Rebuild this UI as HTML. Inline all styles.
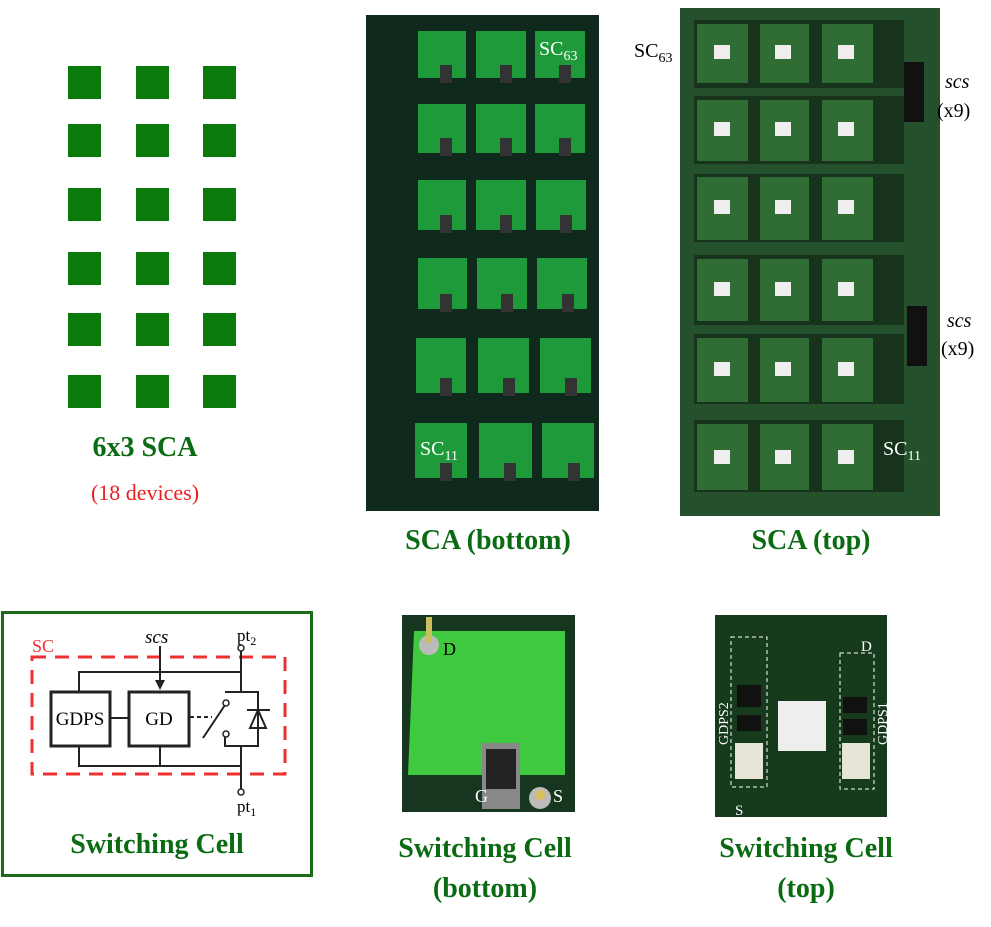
<!DOCTYPE html>
<html><head><meta charset="utf-8"><style>
body{margin:0;width:991px;height:927px;background:#fff;position:relative;overflow:hidden;font-family:"Liberation Serif",serif}
.a{position:absolute}
.t{position:absolute;color:#0b6b12;font-weight:bold;font-size:28px;text-align:center;line-height:40px}
.sq{position:absolute;width:33px;height:33px;background:#0a7a0a}
</style></head><body>
<div class="sq" style="left:68px;top:66px"></div><div class="sq" style="left:136px;top:66px"></div><div class="sq" style="left:203px;top:66px"></div>
<div class="sq" style="left:68px;top:124px"></div><div class="sq" style="left:136px;top:124px"></div><div class="sq" style="left:203px;top:124px"></div>
<div class="sq" style="left:68px;top:188px"></div><div class="sq" style="left:136px;top:188px"></div><div class="sq" style="left:203px;top:188px"></div>
<div class="sq" style="left:68px;top:252px"></div><div class="sq" style="left:136px;top:252px"></div><div class="sq" style="left:203px;top:252px"></div>
<div class="sq" style="left:68px;top:313px"></div><div class="sq" style="left:136px;top:313px"></div><div class="sq" style="left:203px;top:313px"></div>
<div class="sq" style="left:68px;top:375px"></div><div class="sq" style="left:136px;top:375px"></div><div class="sq" style="left:203px;top:375px"></div>
<div class="t" style="left:40px;width:210px;top:428px">6x3 SCA</div>
<div class="a" style="left:40px;width:210px;top:480px;text-align:center;color:#e82020;font-size:22px">(18 devices)</div>

<svg class="a" style="left:0;top:0" width="991" height="600">
<rect x="366" y="15" width="233" height="496" fill="#0f2a1c"/>
<g fill="#1f9a3a">
<rect x="418" y="31" width="48" height="47"/><rect x="476" y="31" width="50" height="47"/><rect x="535" y="31" width="50" height="47"/>
<rect x="418" y="104" width="48" height="49"/><rect x="476" y="104" width="50" height="49"/><rect x="535" y="104" width="50" height="49"/>
<rect x="418" y="180" width="48" height="50"/><rect x="476" y="180" width="50" height="50"/><rect x="536" y="180" width="50" height="50"/>
<rect x="418" y="258" width="49" height="51"/><rect x="477" y="258" width="50" height="51"/><rect x="537" y="258" width="50" height="51"/>
<rect x="416" y="338" width="50" height="55"/><rect x="478" y="338" width="51" height="55"/><rect x="540" y="338" width="51" height="55"/>
<rect x="415" y="423" width="52" height="55"/><rect x="479" y="423" width="53" height="55"/><rect x="542" y="423" width="52" height="55"/>
</g>
<g fill="#333">
<rect x="440" y="65" width="12" height="18"/><rect x="500" y="65" width="12" height="18"/><rect x="559" y="65" width="12" height="18"/>
<rect x="440" y="138" width="12" height="18"/><rect x="500" y="138" width="12" height="18"/><rect x="559" y="138" width="12" height="18"/>
<rect x="440" y="215" width="12" height="18"/><rect x="500" y="215" width="12" height="18"/><rect x="560" y="215" width="12" height="18"/>
<rect x="440" y="294" width="12" height="18"/><rect x="501" y="294" width="12" height="18"/><rect x="562" y="294" width="12" height="18"/>
<rect x="440" y="378" width="12" height="18"/><rect x="503" y="378" width="12" height="18"/><rect x="565" y="378" width="12" height="18"/>
<rect x="440" y="463" width="12" height="18"/><rect x="504" y="463" width="12" height="18"/><rect x="568" y="463" width="12" height="18"/>
</g>
<text x="539" y="55" fill="#fff" font-size="20">SC<tspan font-size="14" dy="5">63</tspan></text>
<text x="420" y="455" fill="#fff" font-size="20">SC<tspan font-size="14" dy="5">11</tspan></text>
<rect x="680" y="8" width="260" height="508" fill="#24502c"/>
<g fill="#17331c">
<rect x="694" y="20" width="210" height="68"/><rect x="694" y="96" width="210" height="68"/><rect x="694" y="174" width="210" height="68"/>
<rect x="694" y="255" width="210" height="70"/><rect x="694" y="334" width="210" height="70"/><rect x="694" y="420" width="210" height="72"/>
</g>
<g fill="#2f6d35">
<rect x="697" y="24" width="51" height="59"/><rect x="760" y="24" width="49" height="59"/><rect x="822" y="24" width="51" height="59"/>
<rect x="697" y="100" width="51" height="61"/><rect x="760" y="100" width="49" height="61"/><rect x="822" y="100" width="51" height="61"/>
<rect x="697" y="177" width="51" height="63"/><rect x="760" y="177" width="49" height="63"/><rect x="822" y="177" width="51" height="63"/>
<rect x="697" y="259" width="51" height="62"/><rect x="760" y="259" width="49" height="62"/><rect x="822" y="259" width="51" height="62"/>
<rect x="697" y="338" width="51" height="64"/><rect x="760" y="338" width="49" height="64"/><rect x="822" y="338" width="51" height="64"/>
<rect x="697" y="424" width="51" height="66"/><rect x="760" y="424" width="49" height="66"/><rect x="822" y="424" width="51" height="66"/>
</g>
<g fill="#eee">
<rect x="714" y="45" width="16" height="14"/><rect x="775" y="45" width="16" height="14"/><rect x="838" y="45" width="16" height="14"/>
<rect x="714" y="122" width="16" height="14"/><rect x="775" y="122" width="16" height="14"/><rect x="838" y="122" width="16" height="14"/>
<rect x="714" y="200" width="16" height="14"/><rect x="775" y="200" width="16" height="14"/><rect x="838" y="200" width="16" height="14"/>
<rect x="714" y="282" width="16" height="14"/><rect x="775" y="282" width="16" height="14"/><rect x="838" y="282" width="16" height="14"/>
<rect x="714" y="362" width="16" height="14"/><rect x="775" y="362" width="16" height="14"/><rect x="838" y="362" width="16" height="14"/>
<rect x="714" y="450" width="16" height="14"/><rect x="775" y="450" width="16" height="14"/><rect x="838" y="450" width="16" height="14"/>
</g>
<rect x="904" y="62" width="20" height="60" fill="#111"/>
<rect x="907" y="306" width="20" height="60" fill="#111"/>
<text x="634" y="57" font-size="20">SC<tspan font-size="14" dy="5">63</tspan></text>
<text x="883" y="455" fill="#fff" font-size="20">SC<tspan font-size="14" dy="5">11</tspan></text>
<text x="945" y="88" font-size="20" font-style="italic">scs</text>
<text x="937" y="117" font-size="20">(x9)</text>
<text x="947" y="327" font-size="20" font-style="italic">scs</text>
<text x="941" y="355" font-size="20">(x9)</text>
</svg>
<div class="t" style="left:350px;width:276px;top:521px">SCA (bottom)</div>
<div class="t" style="left:680px;width:262px;top:521px">SCA (top)</div>

<div class="a" style="left:1px;top:611px;width:306px;height:260px;border:3px solid #1a6b1a"></div>
<svg class="a" style="left:0;top:610px" width="320" height="270">
<rect x="32" y="47" width="253" height="117" fill="none" stroke="#f03030" stroke-width="3" stroke-dasharray="14,9"/>
<text x="32" y="42" fill="#f03030" font-size="18">SC</text>
<text x="145" y="33" font-size="19" font-style="italic">scs</text>
<text x="237" y="31" font-size="17">pt<tspan font-size="12" dy="4">2</tspan></text>
<text x="237" y="202" font-size="17">pt<tspan font-size="12" dy="4">1</tspan></text>
<g stroke="#222" stroke-width="2" fill="none">
<path d="M160 36V78"/><path d="M79 82V62H241V82"/><path d="M79 136V156H241V136"/><path d="M160 136V156"/>
<path d="M241 40V62"/><path d="M241 156V180"/>
<path d="M110 108H129"/>
<path d="M203 128L227 92"/><path d="M225 82H258V136H225V125"/>
<path d="M247 100H270"/><path d="M250 118L258 100L266 118Z"/><path d="M258 118V136"/>
<path d="M190 107H212" stroke-dasharray="4,3"/>
</g>
<path d="M155 70L160 80L165 70Z" fill="#222"/>
<circle cx="241" cy="38" r="3" fill="#fff" stroke="#222" stroke-width="1.5"/>
<circle cx="241" cy="182" r="3" fill="#fff" stroke="#222" stroke-width="1.5"/>
<circle cx="226" cy="93" r="3" fill="#fff" stroke="#222" stroke-width="1.5"/>
<circle cx="226" cy="124" r="3" fill="#fff" stroke="#222" stroke-width="1.5"/>
<rect x="51" y="82" width="59" height="54" fill="#fff" stroke="#222" stroke-width="3"/>
<rect x="129" y="82" width="60" height="54" fill="#fff" stroke="#222" stroke-width="3"/>
<text x="80" y="115" font-size="19" text-anchor="middle">GDPS</text>
<text x="159" y="115" font-size="19" text-anchor="middle">GD</text>
</svg>
<div class="t" style="left:2px;width:310px;top:825px">Switching Cell</div>

<svg class="a" style="left:402px;top:615px" width="173" height="197">
<rect width="173" height="197" fill="#17361f"/>
<path d="M12 16L163 16L163 160L6 160Z" fill="#3ec93e"/>
<rect x="80" y="128" width="38" height="66" fill="#888"/>
<rect x="84" y="134" width="30" height="40" fill="#222"/>
<circle cx="27" cy="30" r="10" fill="#bbb"/><rect x="24" y="2" width="6" height="26" fill="#c8c060"/>
<circle cx="138" cy="183" r="11" fill="#bbb"/><circle cx="138" cy="180" r="5" fill="#d8c060"/>
<text x="41" y="40" font-size="18">D</text>
<text x="73" y="187" font-size="18" fill="#fff">G</text>
<text x="151" y="187" font-size="18" fill="#fff">S</text>
</svg>
<div class="t" style="left:355px;width:260px;top:829px">Switching Cell<br>(bottom)</div>

<svg class="a" style="left:715px;top:615px" width="172" height="202">
<rect width="172" height="202" fill="#163a1c"/>
<rect x="16" y="22" width="36" height="150" fill="none" stroke="#fff" stroke-dasharray="4,3"/>
<rect x="125" y="38" width="34" height="136" fill="none" stroke="#fff" stroke-dasharray="4,3"/>
<rect x="63" y="86" width="48" height="50" fill="#eee"/>
<rect x="20" y="128" width="28" height="36" fill="#e8e4d8"/><rect x="127" y="128" width="28" height="36" fill="#e8e4d8"/>
<rect x="22" y="70" width="24" height="22" fill="#111"/><rect x="22" y="100" width="24" height="16" fill="#111"/>
<rect x="128" y="82" width="24" height="16" fill="#111"/><rect x="128" y="104" width="24" height="16" fill="#111"/>
<text x="146" y="36" font-size="15" fill="#fff">D</text>
<text x="20" y="200" font-size="15" fill="#fff">S</text>
<text transform="translate(13,130) rotate(-90)" font-size="14" fill="#fff">GDPS2</text>
<text transform="translate(172,130) rotate(-90)" font-size="14" fill="#fff">GDPS1</text>
</svg>
<div class="t" style="left:676px;width:260px;top:829px">Switching Cell<br>(top)</div>
</body></html>
